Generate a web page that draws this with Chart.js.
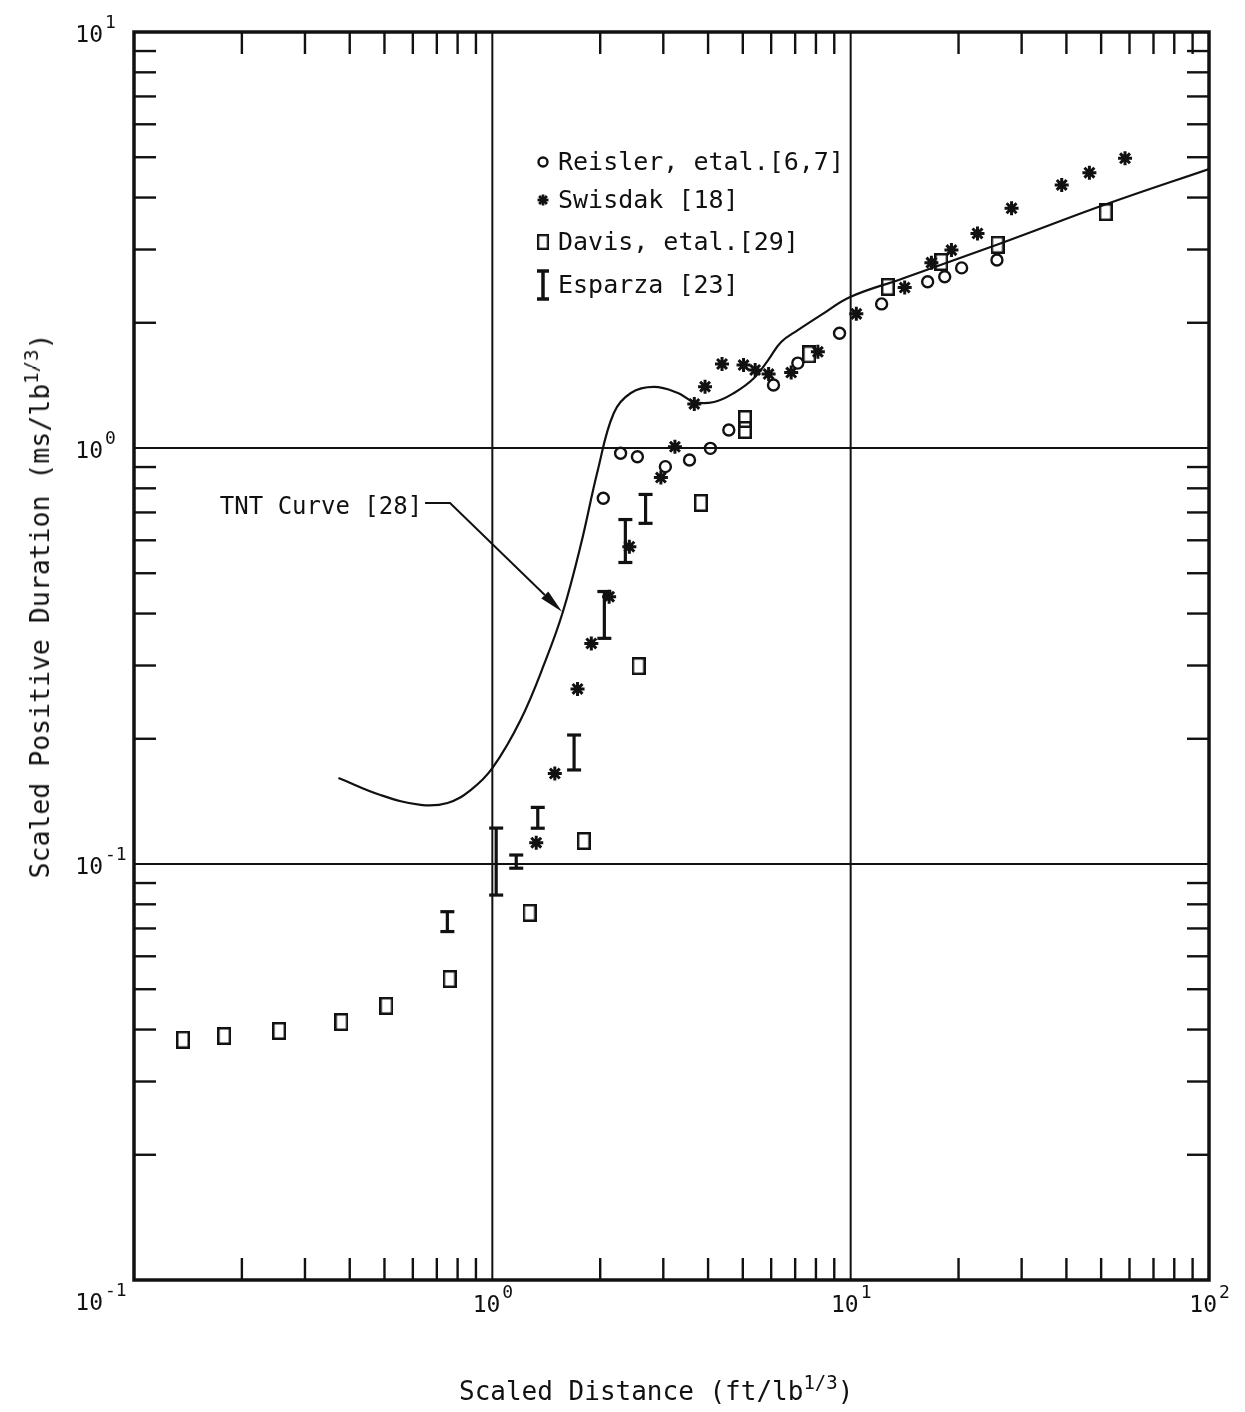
<!DOCTYPE html>
<html lang="en">
<head>
<meta charset="UTF-8">
<title>Scaled Positive Duration vs Scaled Distance</title>
<script src="https://cdn.jsdelivr.net/npm/chart.js@4.4.1/dist/chart.umd.min.js"></script>
<style>
  body { margin: 0; background: #fff; }
  #wrap { position: relative; width: 1245px; height: 1412px; }
  canvas { display: block; }
  .ttl { position: absolute; font-family: "DejaVu Sans Mono", monospace; font-size: 26px; line-height: 26px; color: #111; white-space: nowrap; }
  .ttl sup { font-size: 19px; line-height: 0; vertical-align: 0.6em; }
</style>
</head>
<body>
<div id="wrap">
  <canvas id="chart" width="1245" height="1412"></canvas>
  <div class="ttl" style="left:459px; top:1378px;">Scaled Distance (ft/lb<sup>1/3</sup>)</div>
  <div class="ttl" style="left:40px; top:606px; font-size:26.5px; transform:translate(-50%,-50%) rotate(-90deg);">Scaled Positive Duration (ms/lb<sup>1/3</sup>)</div>
</div>

<script>
// values (log-log axes)
var reislerX = [2.04, 2.28, 2.54, 3.04, 3.55, 4.06, 4.57, 6.09, 7.12, 9.31, 12.2, 16.4, 18.3, 20.4, 25.6];
var reislerY = [0.757, 0.971, 0.953, 0.902, 0.936, 0.998, 1.105, 1.417, 1.60, 1.887, 2.22, 2.51, 2.58, 2.71, 2.83];

var swisdakX = [1.326, 1.494, 1.729, 1.889, 2.118, 2.412, 2.954, 3.233, 3.661, 3.923, 4.375, 5.024, 5.413, 5.902, 6.823, 8.10, 10.37, 14.15, 16.80, 19.11, 22.59, 28.12, 38.81, 46.37, 58.3];
var swisdakY = [0.1125, 0.165, 0.2635, 0.339, 0.439, 0.579, 0.849, 1.007, 1.276, 1.404, 1.592, 1.583, 1.540, 1.506, 1.518, 1.703, 2.101, 2.43, 2.79, 2.99, 3.28, 3.77, 4.29, 4.59, 4.97];

var davisX = [0.137, 0.1785, 0.254, 0.379, 0.506, 0.760, 1.27, 1.80, 2.56, 3.82, 5.07, 5.07, 7.66, 12.7, 17.9, 25.7, 51.5];
var davisY = [0.0378, 0.0386, 0.0397, 0.0417, 0.0456, 0.0529, 0.0763, 0.1136, 0.299, 0.738, 1.174, 1.105, 1.68, 2.44, 2.80, 3.08, 3.69];

// Esparza: ranges (low / high)
var esparzaX = [0.749, 1.025, 1.166, 1.339, 1.691, 2.054, 2.351, 2.677];
var esparzaLo = [0.0688, 0.0842, 0.0977, 0.1219, 0.1683, 0.3487, 0.5306, 0.659];
var esparzaHi = [0.0768, 0.122, 0.1051, 0.1368, 0.2042, 0.4519, 0.673, 0.7733];

// TNT curve [28]
var tntX = [0.372, 0.487, 0.631, 0.750, 0.870, 1.00, 1.199, 1.409, 1.573, 1.765, 1.970, 2.183, 2.436, 2.825, 3.297, 3.654, 4.157, 4.727, 5.377, 5.885, 6.397, 7.137, 8.276, 9.97, 13.85, 26.4, 51.8, 100];
var tntY = [0.161, 0.1465, 0.1387, 0.1402, 0.1506, 0.170, 0.2219, 0.309, 0.4034, 0.5844, 0.8855, 1.214, 1.356, 1.402, 1.356, 1.290, 1.290, 1.356, 1.473, 1.627, 1.798, 1.922, 2.089, 2.307, 2.549, 3.111, 3.859, 4.685];

// callout for the curve: label anchor, then leader line points (data units)
var tntLabel = { text: 'TNT Curve [28]', x: 0.637, y: 0.7176 };
var tntLeaderX = [0.649, 0.762, 1.565];
var tntLeaderY = [0.7377, 0.7377, 0.404];

var xDecades = [0.1, 1, 10, 100];
var yDecades = [0.01, 0.1, 1, 10];
var xTickExp = [-1, 0, 1, 2];
var yTickExp = [-1, 0, 1];

var legendNames = ['Reisler, etal.[6,7]', 'Swisdak [18]', 'Davis, etal.[29]', 'Esparza [23]'];


var ink = '#111';
var fontFam = '"DejaVu Sans Mono", monospace';

function pts(xs, ys) {
  return xs.map(function (v, i) { return { x: v, y: ys[i] }; });
}

// tall open rectangle used for the Davis points
var rectMark = document.createElement('canvas');
rectMark.width = 14; rectMark.height = 18;
(function () {
  var c = rectMark.getContext('2d');
  c.strokeStyle = ink; c.lineWidth = 2.5;
  c.strokeRect(1.25, 1.25, 11.5, 15.5);
})();

function seg(ctx, x1, y1, x2, y2) {
  ctx.beginPath(); ctx.moveTo(x1, y1); ctx.lineTo(x2, y2); ctx.stroke();
}

function ibar(ctx, px, top, bot, half, lw) {
  ctx.lineWidth = lw;
  seg(ctx, px, top, px, bot);
  seg(ctx, px - half, top, px + half, top);
  seg(ctx, px - half, bot, px + half, bot);
}

function star(ctx, cx, cy, r) {
  for (var k = 0; k < 4; k++) {
    var a = k * Math.PI / 4;
    seg(ctx, cx - r * Math.cos(a), cy - r * Math.sin(a), cx + r * Math.cos(a), cy + r * Math.sin(a));
  }
}

function power(ctx, exp, rightX, cy) {
  ctx.fillStyle = ink;
  ctx.textBaseline = 'middle';
  ctx.font = '23px ' + fontFam;
  ctx.textAlign = 'right';
  ctx.fillText('10', rightX, cy);
  ctx.font = '18px ' + fontFam;
  ctx.textAlign = 'left';
  ctx.fillText(exp < 0 ? '-' + (-exp) : String(exp), rightX + 2, cy - 13);
}

var decor = {
  id: 'decor',
  beforeDatasetsDraw: function (chart) {
    var ctx = chart.ctx, a = chart.chartArea, x = chart.scales.x, y = chart.scales.y;
    ctx.save();
    ctx.strokeStyle = ink;
    ctx.lineWidth = 2;
    xDecades.slice(1, -1).forEach(function (v) {
      var px = x.getPixelForValue(v);
      seg(ctx, px, a.top, px, a.bottom);
    });
    yDecades.slice(1, -1).forEach(function (v) {
      var py = y.getPixelForValue(v);
      seg(ctx, a.left, py, a.right, py);
    });
    ctx.restore();
  },
  afterDatasetsDraw: function (chart) {
    var ctx = chart.ctx, x = chart.scales.x, y = chart.scales.y;
    ctx.save();
    ctx.strokeStyle = ink;
    esparzaX.forEach(function (v, i) {
      ibar(ctx, x.getPixelForValue(v), y.getPixelForValue(esparzaHi[i]), y.getPixelForValue(esparzaLo[i]), 7, 3.2);
    });
    ctx.restore();
  },
  afterDraw: function (chart) {
    var ctx = chart.ctx, a = chart.chartArea, x = chart.scales.x, y = chart.scales.y;
    ctx.save();
    ctx.strokeStyle = ink;
    ctx.lineCap = 'butt';

    // frame
    ctx.lineWidth = 3.5;
    ctx.strokeRect(a.left, a.top, a.right - a.left, a.bottom - a.top);

    // inward minor ticks on all four sides
    var tl = 22;
    ctx.lineWidth = 2.4;
    xDecades.slice(0, -1).forEach(function (d) {
      for (var m = 2; m <= 9; m++) {
        var px = x.getPixelForValue(d * m);
        seg(ctx, px, a.bottom, px, a.bottom - tl);
        seg(ctx, px, a.top, px, a.top + tl);
      }
    });
    yDecades.slice(0, -1).forEach(function (d) {
      for (var m = 2; m <= 9; m++) {
        var py = y.getPixelForValue(d * m);
        seg(ctx, a.left, py, a.left + tl, py);
        seg(ctx, a.right, py, a.right - tl, py);
      }
    });

    // tick labels
    yTickExp.forEach(function (e) {
      power(ctx, e, a.left - 31, y.getPixelForValue(Math.pow(10, e)) + 4);
    });
    xTickExp.forEach(function (e) {
      var px = x.getPixelForValue(Math.pow(10, e));
      if (px - a.left < 1) power(ctx, e, a.left - 31, a.bottom + 24);
      else power(ctx, e, px + 8, a.bottom + 26);
    });

    // legend
    var lx = 543, tx = 558, rows = [162, 200, 242, 285];
    ctx.fillStyle = ink;
    ctx.font = '25px ' + fontFam;
    ctx.textAlign = 'left';
    ctx.textBaseline = 'middle';
    legendNames.forEach(function (n, i) { ctx.fillText(n, tx, rows[i] + 1); });
    ctx.lineWidth = 2.4;
    ctx.beginPath(); ctx.arc(lx, rows[0], 4.5, 0, Math.PI * 2); ctx.stroke();
    ctx.lineWidth = 2.8; star(ctx, lx, rows[1], 5.5);
    ctx.drawImage(rectMark, lx - 6, rows[2] - 8, 12, 16);
    ibar(ctx, lx, rows[3] - 14, rows[3] + 14, 6, 3.5);

    // TNT callout
    var lpx = tntLeaderX.map(function (v) { return x.getPixelForValue(v); });
    var lpy = tntLeaderY.map(function (v) { return y.getPixelForValue(v); });
    ctx.font = '24px ' + fontFam;
    ctx.textAlign = 'right';
    ctx.fillText(tntLabel.text, x.getPixelForValue(tntLabel.x), y.getPixelForValue(tntLabel.y));
    var n = lpx.length - 1;
    var dx = lpx[n] - lpx[n - 1], dy = lpy[n] - lpy[n - 1], len = Math.hypot(dx, dy);
    var ux = dx / len, uy = dy / len, al = 24, aw = 5;
    ctx.lineWidth = 2;
    ctx.beginPath();
    ctx.moveTo(lpx[0], lpy[0]);
    for (var i = 1; i < n; i++) ctx.lineTo(lpx[i], lpy[i]);
    ctx.lineTo(lpx[n] - ux * al, lpy[n] - uy * al);
    ctx.stroke();
    ctx.beginPath();
    ctx.moveTo(lpx[n], lpy[n]);
    ctx.lineTo(lpx[n] - ux * al - uy * aw, lpy[n] - uy * al + ux * aw);
    ctx.lineTo(lpx[n] - ux * al + uy * aw, lpy[n] - uy * al - ux * aw);
    ctx.closePath();
    ctx.fill();

    ctx.restore();
  }
};

new Chart(document.getElementById('chart'), {
  type: 'scatter',
  data: {
    datasets: [
      {
        label: 'TNT Curve [28]',
        data: pts(tntX, tntY),
        showLine: true,
        tension: 0.4,
        borderColor: ink,
        borderWidth: 2.2,
        pointRadius: 0,
        fill: false
      },
      {
        label: legendNames[0],
        data: pts(reislerX, reislerY),
        pointStyle: 'circle',
        pointRadius: 5.5,
        borderWidth: 2.4,
        borderColor: ink,
        backgroundColor: 'rgba(0,0,0,0)'
      },
      {
        label: legendNames[1],
        data: pts(swisdakX, swisdakY),
        pointStyle: 'star',
        pointRadius: 7,
        borderWidth: 3,
        borderColor: ink,
        backgroundColor: ink
      },
      {
        label: legendNames[2],
        data: pts(davisX, davisY),
        pointStyle: rectMark,
        borderColor: ink
      }
    ]
  },
  options: {
    responsive: false,
    animation: false,
    devicePixelRatio: 1,
    layout: { padding: { top: 32, right: 36, left: 0, bottom: 0 } },
    plugins: { legend: { display: false }, tooltip: { enabled: false } },
    scales: {
      x: {
        type: 'logarithmic', min: 0.1, max: 100,
        ticks: { display: false },
        grid: { display: false, drawTicks: false },
        border: { display: false },
        afterFit: function (s) { s.height = 132; }
      },
      y: {
        type: 'logarithmic', min: 0.01, max: 10,
        ticks: { display: false },
        grid: { display: false, drawTicks: false },
        border: { display: false },
        afterFit: function (s) { s.width = 134; }
      }
    }
  },
  plugins: [decor]
});
</script>
</body>
</html>
